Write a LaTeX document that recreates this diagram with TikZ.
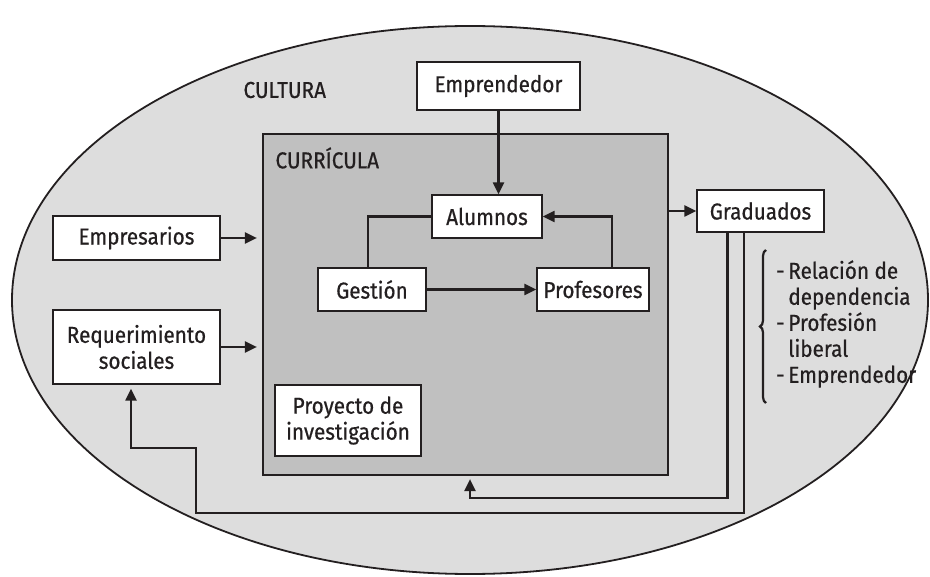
\documentclass[tikz,border=0pt]{standalone}
\usepackage{fontspec}
\setmainfont{Fira Sans}[FakeStretch=0.9,FakeBold=0.6]
\usetikzlibrary{arrows.meta,calc,decorations.pathreplacing}
\definecolor{cult}{RGB}{221,221,221}
\definecolor{curfill}{RGB}{192,192,192}
\definecolor{ink}{RGB}{35,31,32}
\begin{document}
\begin{tikzpicture}[x=1pt,y=-1pt,
  every node/.style={font=\fontsize{23}{26}\selectfont, text=ink},
  box/.style={draw=ink, line width=1.3pt, fill=white, inner sep=0pt, align=center},
  arr/.style={draw=ink, line width=2.2pt, -{Triangle[length=12pt,width=11pt]}},
  ln/.style={draw=ink, line width=2.2pt}]
\useasboundingbox (0,0) rectangle (930,577);
\clip (0,0) rectangle (930,577);
\fill[white] (0,0) rectangle (930,577);
\draw[fill=cult, draw=ink, line width=1.8pt] (470,300) ellipse [x radius=458, y radius=274];
\node[draw=ink, line width=2.2pt, fill=curfill, minimum width=405, minimum height=341, inner sep=0pt] (curr) at (465.5,304.5) {};
\node[anchor=west] (cultura) at (240,90) {CULTURA};
\node[anchor=west] (curtxt) at (272,158) {CURRÍCULA};
\node[box, minimum width=163, minimum height=48] (emp) at (498.5,86) {Emprendedor};
\node[box, minimum width=110, minimum height=43] (alu) at (487,216.5) {Alumnos};
\node[box, minimum width=108, minimum height=43] (ges) at (372,289.5) {Gestión};
\node[box, minimum width=112, minimum height=43] (pro) at (593,289.5) {Profesores};
\node[box, minimum width=167, minimum height=44] (empr) at (136.5,238) {Empresarios};
\node[box, minimum width=167, minimum height=74] (req) at (136.5,347) {Requerimiento\\sociales};
\node[box, minimum width=146, minimum height=71] (proy) at (348,420.5) {Proyecto de\\investigación};
\node[box, minimum width=127, minimum height=42] (gra) at (760.5,211) {Graduados};
\node[anchor=west, align=left, inner sep=0pt] (lista) at (776,324) {-\,Relación de\\\hphantom{-\,}dependencia\\-\,Profesión\\\hphantom{-\,}liberal\\-\,Emprendedor};
\draw[arr] (emp.south) -- (emp.south |- alu.north);
\draw[ln] (alu.west) -| ([xshift=-4]ges.north);
\draw[arr] (ges.east) -- (pro.west);
\draw[arr] ([xshift=19]pro.north) |- (alu.east);
\draw[arr, shorten >=5pt] (empr.east) -- (empr.east -| curr.west);
\draw[arr, shorten >=5pt] (req.east) -- (req.east -| curr.west);
\draw[arr] (curr.east |- gra.west) -- (gra.west);
\coordinate (b1) at (470,498);
\coordinate (b2) at (196,513);
\coordinate (b3) at (131,448);
\draw[arr, shorten >=3pt] ([xshift=-33]gra.south) |- (b1) -- (b1 |- curr.south);
\draw[arr, shorten >=4pt] ([xshift=-16.5]gra.south) |- (b2) |- (b3) -- (b3 |- req.south);
\draw[ink, line width=2.2pt, decorate, decoration={brace, amplitude=6pt}] (766,403) -- (766,250);
\end{tikzpicture}
\end{document}
